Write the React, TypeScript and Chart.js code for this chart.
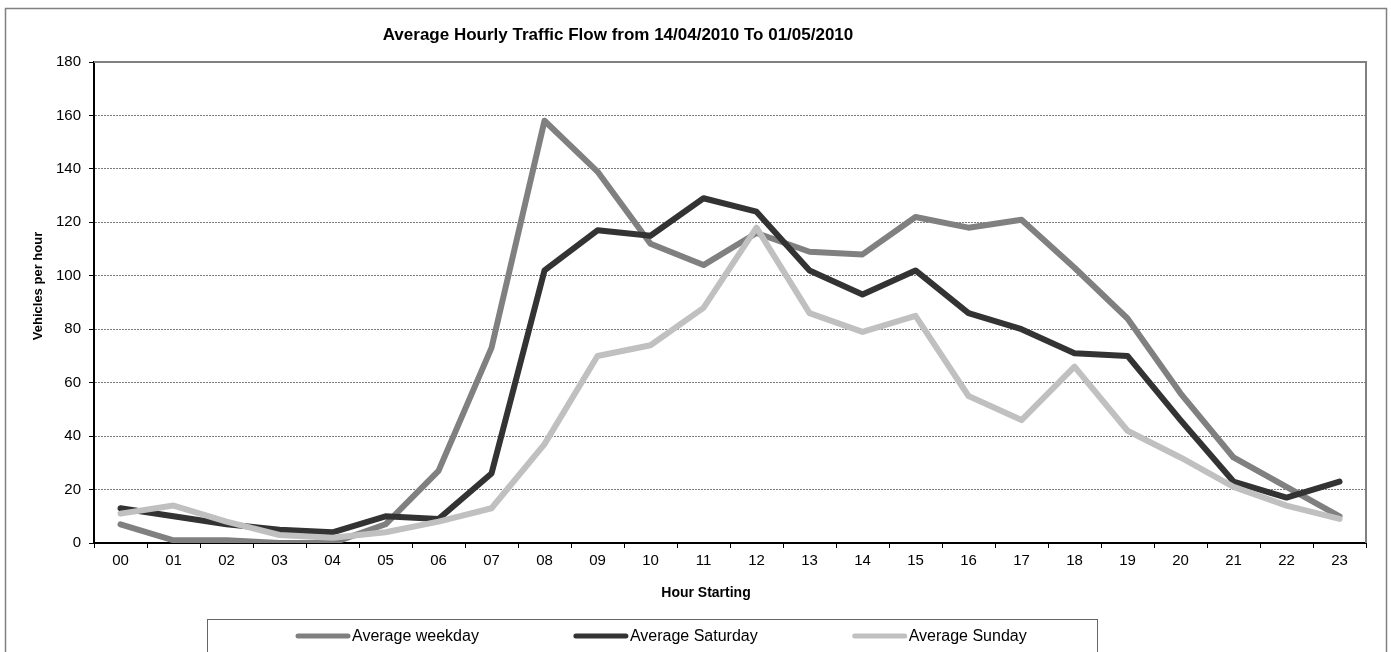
import React, { useEffect, useRef } from "react";
import { Chart, registerables } from "chart.js";

Chart.register(...registerables);

const hours = ["00", "01", "02", "03", "04", "05", "06", "07", "08", "09", "10", "11", "12", "13", "14", "15", "16", "17", "18", "19", "20", "21", "22", "23"];
const weekday = [7, 1, 1, 0, 0, 7, 27, 73, 158, 139, 112, 104, 116, 109, 108, 122, 118, 121, 103, 84, 56, 32, 21, 10];
const saturday = [13, 10, 7, 5, 4, 10, 9, 26, 102, 117, 115, 129, 124, 102, 93, 102, 86, 80, 71, 70, 46, 23, 17, 23];
const sunday = [11, 14, 8, 3, 2, 4, 8, 13, 37, 70, 74, 88, 118, 86, 79, 85, 55, 46, 66, 42, 32, 21, 14, 9];
const seriesLabels = ["Average weekday", "Average Saturday", "Average Sunday"];
const seriesColors = ["#808080", "#333333", "#c0c0c0"];
const chartTitle = "Average Hourly Traffic Flow from 14/04/2010 To 01/05/2010";
const xTitle = "Hour Starting";
const yTitle = "Vehicles per hour";
const yMin = 0;
const yMax = 180;
const yStep = 20;

const FONT = '"Liberation Sans", Arial, Helvetica, sans-serif';

const decorPlugin = {
  id: "decor",
  beforeDraw(chart: any) {
    const { ctx, width, height } = chart;
    ctx.save();
    ctx.fillStyle = "#ffffff";
    ctx.fillRect(0, 0, width, height);
    ctx.strokeStyle = "#808080";
    ctx.lineWidth = 1.5;
    ctx.strokeRect(5.5, 8.5, width - 10, height + 40);
    ctx.restore();
  },
  beforeDatasetsDraw(chart: any) {
    const { ctx, chartArea } = chart;
    ctx.save();
    ctx.strokeStyle = "#808080";
    ctx.lineWidth = 2;
    ctx.beginPath();
    ctx.moveTo(chartArea.left, chartArea.top);
    ctx.lineTo(chartArea.right, chartArea.top);
    ctx.lineTo(chartArea.right, chartArea.bottom);
    ctx.stroke();
    ctx.restore();
  },
  afterDraw(chart: any) {
    const { ctx } = chart;
    ctx.save();
    ctx.fillStyle = "#000000";
    ctx.textBaseline = "middle";
    ctx.textAlign = "center";
    // chart title
    ctx.font = `bold 17px ${FONT}`;
    ctx.fillText(chartTitle, 618, 35);
    // x axis title
    ctx.font = `bold 14px ${FONT}`;
    ctx.fillText(xTitle, 706, 593);
    // y axis title
    ctx.save();
    ctx.translate(38, 286);
    ctx.rotate(-Math.PI / 2);
    ctx.font = `bold 13px ${FONT}`;
    ctx.fillText(yTitle, 0, 0);
    ctx.restore();

    // legend box
    ctx.strokeStyle = "#666666";
    ctx.lineWidth = 1;
    ctx.strokeRect(207.5, 619.5, 890, 100);

    // legend items
    ctx.font = `16px ${FONT}`;
    ctx.textAlign = "left";
    let x = 296;
    const y = 636;
    chart.data.datasets.forEach((ds: any) => {
      ctx.strokeStyle = ds.borderColor;
      ctx.lineWidth = 5;
      ctx.lineCap = "round";
      ctx.beginPath();
      ctx.moveTo(x + 2, y);
      ctx.lineTo(x + 52, y);
      ctx.stroke();
      ctx.fillStyle = "#000000";
      ctx.fillText(ds.label, x + 56, y + 1);
      x += 56 + ctx.measureText(ds.label).width + 95;
    });
    ctx.restore();
  },
};

export default function App() {
  const ref = useRef<HTMLCanvasElement | null>(null);

  useEffect(() => {
    document.body.style.margin = "0";
    document.body.style.overflow = "hidden";
    if (!ref.current) return;
    const chart = new Chart(ref.current, {
      type: "line",
      data: {
        labels: hours,
        datasets: [
          { label: seriesLabels[0], data: weekday, borderColor: seriesColors[0], order: 3 },
          { label: seriesLabels[1], data: saturday, borderColor: seriesColors[1], order: 2 },
          { label: seriesLabels[2], data: sunday, borderColor: seriesColors[2], order: 1 },
        ].map((d) => ({
          ...d,
          backgroundColor: d.borderColor,
          borderWidth: 6,
          pointRadius: 0,
          pointHoverRadius: 0,
          tension: 0,
          fill: false,
          borderCapStyle: "round" as const,
          borderJoinStyle: "round" as const,
        })),
      },
      options: {
        responsive: false,
        animation: false,
        events: [],
        layout: { padding: { left: 50, right: 25, top: 62, bottom: 79 } },
        plugins: {
          legend: { display: false },
          title: { display: false },
          tooltip: { enabled: false },
        },
        scales: {
          x: {
            type: "category",
            offset: true,
            afterFit: (scale: any) => {
              scale.height = 30;
            },
            grid: {
              offset: true,
              drawOnChartArea: false,
              drawTicks: true,
              tickLength: 5,
              tickColor: "#000000",
              tickWidth: 1,
            },
            border: { display: true, color: "#000000", width: 2 },
            ticks: {
              color: "#000000",
              font: { family: FONT, size: 15 },
              padding: 4,
              maxRotation: 0,
              autoSkip: false,
            },
          },
          y: {
            min: yMin,
            max: yMax,
            afterFit: (scale: any) => {
              scale.width = 44;
            },
            grid: {
              color: "#7a7a7a",
              lineWidth: 1,
              drawTicks: true,
              tickLength: 5,
              tickColor: "#000000",
              tickWidth: 1,
              tickBorderDash: [],
            },
            border: { display: true, color: "#000000", width: 2, dash: [2, 1] },
            ticks: {
              stepSize: yStep,
              color: "#000000",
              font: { family: FONT, size: 15 },
              padding: 8,
            },
          },
        },
      },
      plugins: [decorPlugin],
    });
    return () => chart.destroy();
  }, []);

  return (
    <div style={{ width: 1391, height: 652, overflow: "hidden" }}>
      <canvas ref={ref} width={1391} height={652} style={{ display: "block" }} />
    </div>
  );
}
